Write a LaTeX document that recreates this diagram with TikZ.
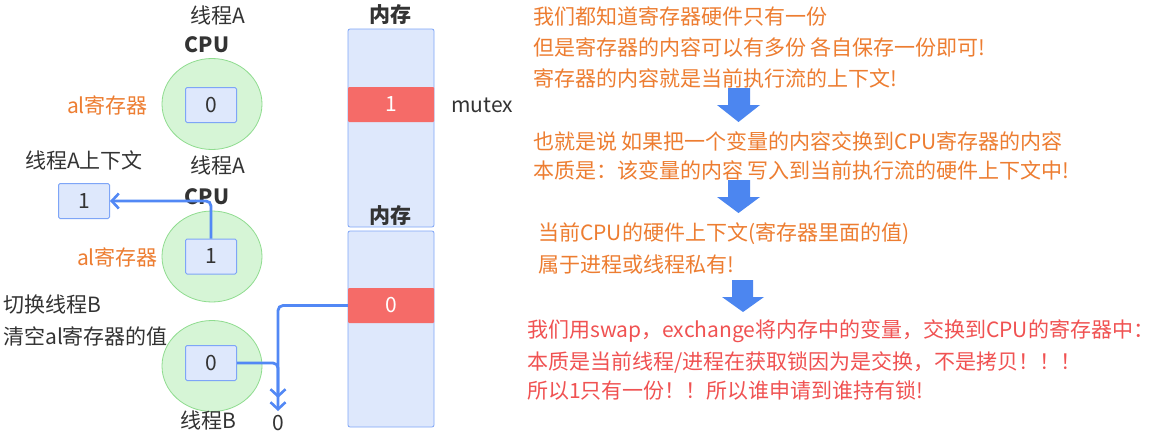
\documentclass[tikz,border=0pt]{standalone}
\usepackage{fontspec}
\setmainfont{Noto Sans CJK SC}
\usetikzlibrary{arrows.meta,shapes.geometric}
\definecolor{txtdark}{HTML}{333333}
\definecolor{orangetxt}{HTML}{ED7D31}
\definecolor{redtxt}{HTML}{F05252}
\definecolor{boxfill}{HTML}{DEE8FC}
\definecolor{boxline}{HTML}{7EA5F7}
\definecolor{cpufill}{HTML}{D6F5D6}
\definecolor{cpuline}{HTML}{8FDC8F}
\definecolor{cellred}{HTML}{F56B68}
\definecolor{connblue}{HTML}{5288F5}
\definecolor{bigarrow}{HTML}{4C86F0}
\tikzset{
  base/.style={inner sep=0pt, font=\fontsize{21}{25}\selectfont},
  txt/.style={base, text=txtdark},
  boldtxt/.style={base, text=txtdark, font=\fontsize{21}{25}\selectfont\bfseries},
  otxt/.style={base, text=orangetxt},
  rtxt/.style={base, text=redtxt},
  cpu/.style={ellipse, draw=cpuline, fill=cpufill, line width=0.8pt, minimum width=100pt, minimum height=91pt, inner sep=0pt},
  reg/.style={base, draw=boxline, fill=boxfill, line width=1pt, rounded corners=1.5pt, minimum width=51pt, minimum height=35pt, text=txtdark},
  mem/.style={draw=boxline, fill=boxfill, line width=0.8pt, rounded corners=2pt, minimum width=86pt, inner sep=0pt},
  cell/.style={base, fill=cellred, rounded corners=1pt, minimum width=86pt, minimum height=35pt, text=white},
  conn/.style={draw=connblue, line width=2.8pt, rounded corners=5pt},
  tip/.style={-{Straight Barb[length=7pt,width=15pt,line width=2.6pt]}},
  blockarrow/.style={fill=bigarrow}
}
\begin{document}
\begin{tikzpicture}[x=1pt,y=-1pt]
\useasboundingbox[fill=white] (0,0) rectangle (1162,431);

% ---- top CPU (thread A) ----
\node[txt] (tA1) at (218,15) {线程A};
\node[boldtxt] (cpuA1) at (207,45) {CPU};
\node[cpu] (cA1) at (212,104) {};
\node[reg] (rA1) at (211,105) {0};
\node[otxt, anchor=east] (alA1) at (148,105) {al寄存器};

% ---- context of thread A ----
\node[txt] (ctxlbl) at (84,160) {线程A上下文};
\node[reg] (ctx) at (84,201) {1};

% ---- middle CPU (thread A) ----
\node[txt] (tA2) at (218,165) {线程A};
\node[boldtxt] (cpuA2) at (207,197) {CPU};
\node[cpu] (cA2) at (212,256.5) {};
\node[reg] (rA2) at (211,256.5) {1};
\node[otxt, anchor=east] (alA2) at (158,257) {al寄存器};

% ---- bottom CPU (thread B) ----
\node[txt, anchor=west] (swB) at (3,305) {切换线程B};
\node[txt, anchor=west] (clr) at (3,336) {清空al寄存器的值};
\node[cpu] (cB) at (212,366) {};
\node[reg] (rB) at (211,363) {0};
\node[txt] (tB) at (208,420) {线程B};
\node[txt] (zeroB) at (278,423) {0};

% ---- memory 1 ----
\node[boldtxt] (memlbl1) at (390,15) {内存};
\node[mem, minimum height=198pt] (mem1) at (391,128) {};
\node[cell] (cell1) at (391,104.5) {1};
\node[txt, anchor=west] (mutex) at (451,105) {mutex};

% ---- memory 2 ----
\node[mem, minimum height=196pt] (mem2) at (391,329) {};
\node[boldtxt] (memlbl2) at (390,216) {内存};
\node[cell] (cell2) at (391,305.5) {0};

% ---- connectors ----
\draw[conn, tip] (rA2.north) |- (ctx.east);
\coordinate (tipA) at (278,398);
\coordinate (tipB) at (278,411);
\draw[conn, tip] (cell2.west) -| (tipB);
\draw[conn, tip] (rB.east) -| (tipA);

% ---- right-hand explanation ----
\node[otxt, anchor=west] (l1) at (533,16) {我们都知道寄存器硬件只有一份};
\node[otxt, anchor=west] (l2) at (533,47) {但是寄存器的内容可以有多份 各自保存一份即可!};
\node[otxt, anchor=west] (l3) at (533,78) {寄存器的内容就是当前执行流的上下文!};
\fill[blockarrow] (728,88) -- (750,88) -- (750,105) -- (760,105) -- (738.5,122) -- (717,105) -- (728,105) -- cycle;

\node[otxt, anchor=west] (l4) at (533,141) {也就是说 如果把一个变量的内容交换到CPU寄存器的内容};
\node[otxt, anchor=west] (l5) at (533,170) {本质是：该变量的内容 写入到当前执行流的硬件上下文中!};
\fill[blockarrow] (728,180) -- (750,180) -- (750,197) -- (760,197) -- (738.5,213) -- (717,197) -- (728,197) -- cycle;

\node[otxt, anchor=west] (l6) at (538,234) {当前CPU的硬件上下文(寄存器里面的值)};
\node[otxt, anchor=west] (l7) at (538,265) {属于进程或线程私有!};
\fill[blockarrow] (732,280) -- (753,280) -- (753,297) -- (764,297) -- (743,312) -- (722,297) -- (732,297) -- cycle;

\node[rtxt, anchor=west] (l8) at (527,331) {我们用swap，exchange将内存中的变量，交换到CPU的寄存器中：};
\node[rtxt, anchor=west] (l9) at (527,362) {本质是当前线程/进程在获取锁因为是交换，不是拷贝！！！};
\node[rtxt, anchor=west] (l10) at (527,391) {所以1只有一份！！所以谁申请到谁持有锁!};
\end{tikzpicture}
\end{document}
